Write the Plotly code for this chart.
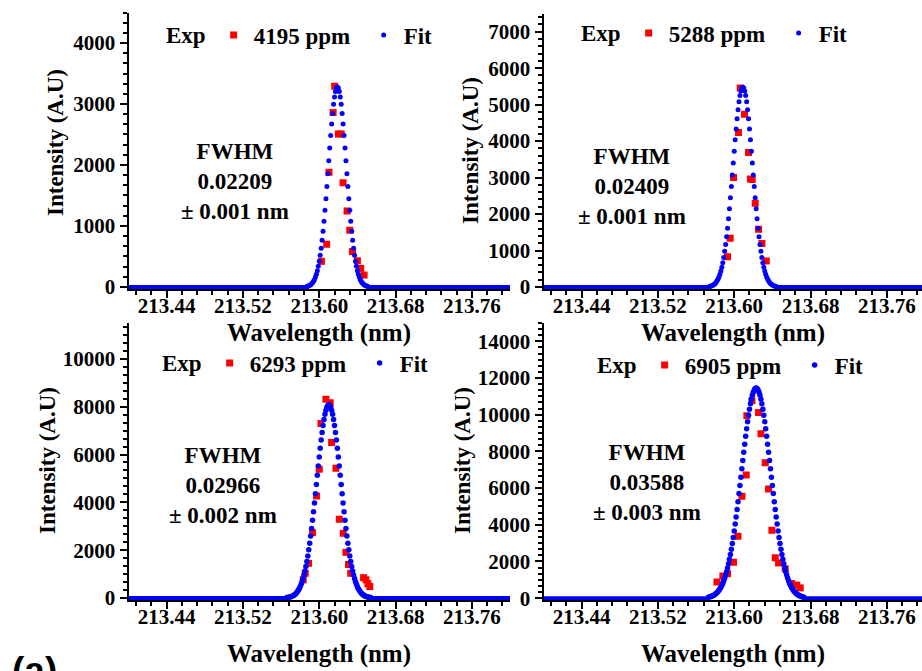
import plotly.graph_objects as go

W, H = 922, 671
SERIF = "serif"
BLUE = "#0000FF"
RED = "#FF0000"

# ---------------- data ----------------
CONC_LABELS = ["4195 ppm", "5288 ppm", "6293 ppm", "6905 ppm"]
FWHM_VALUES = ["0.02209", "0.02409", "0.02966", "0.03588"]
FWHM_ERRORS = ["± 0.001 nm", "± 0.001 nm", "± 0.002 nm", "± 0.003 nm"]
X_TICKS = [213.44, 213.52, 213.60, 213.68, 213.76]
X_TICK_TEXT = ["213.44", "213.52", "213.60", "213.68", "213.76"]
Y_TICKS = [
    [0, 1000, 2000, 3000, 4000],
    [0, 1000, 2000, 3000, 4000, 5000, 6000, 7000],
    [0, 2000, 4000, 6000, 8000, 10000],
    [0, 2000, 4000, 6000, 8000, 10000, 12000, 14000],
]

EXP1_X = [213.6023, 213.6078, 213.6102, 213.6145, 213.6162, 213.6200, 213.6230,
          213.6250, 213.6292, 213.6320, 213.6348, 213.6400, 213.6435, 213.6470]
EXP1_Y = [420, 700, 1880, 2860, 3290, 2510, 2510, 1710, 1245, 930, 580, 430, 305, 196]

EXP2_X = [213.5930, 213.5958, 213.5993, 213.6045, 213.6063, 213.6108, 213.6150,
          213.6170, 213.6188, 213.6220, 213.6255, 213.6290, 213.6336]
EXP2_Y = [830, 1337, 3000, 4236, 5454, 4740, 3687, 2960, 2950, 2297, 1584, 1190, 714]

EXP3_X = [213.5832, 213.5853, 213.5888, 213.5930, 213.5972, 213.6000, 213.6018,
          213.6070, 213.6115, 213.6130, 213.6175, 213.6210, 213.6252, 213.6280,
          213.6307, 213.6330, 213.6465, 213.6490, 213.6510, 213.6530]
EXP3_Y = [760, 1032, 1450, 2733, 4268, 5384, 7300, 8314, 8160, 6500, 5427, 3293,
          2706, 1910, 1400, 1032, 850, 760, 600, 480]

EXP4_X = [213.5819, 213.5881, 213.5930, 213.5993, 213.6039, 213.6081, 213.6126,
          213.6133, 213.6186, 213.6255, 213.6280, 213.6325, 213.6360, 213.6395,
          213.6430, 213.6465, 213.6535, 213.6600, 213.6657, 213.6692]
EXP4_Y = [880, 1205, 1330, 1960, 3380, 5550, 6720, 9950, 10760, 10120, 8960, 7380,
          5956, 3700, 2200, 1920, 1600, 800, 712, 560]

FIT1_X = [213.587, 213.588, 213.589, 213.590, 213.591, 213.592, 213.593, 213.594, 213.595, 213.596,
          213.597, 213.598, 213.599, 213.600, 213.601, 213.602, 213.603, 213.604, 213.605, 213.606,
          213.607, 213.608, 213.609, 213.610, 213.611, 213.612, 213.613, 213.614, 213.615, 213.616,
          213.617, 213.618, 213.619, 213.620, 213.621, 213.622, 213.623, 213.624, 213.625, 213.626,
          213.627, 213.628, 213.629, 213.630, 213.631, 213.632, 213.633, 213.634, 213.635, 213.636,
          213.637, 213.638, 213.639, 213.640, 213.641, 213.642, 213.643, 213.644, 213.645, 213.646,
          213.647, 213.648, 213.649, 213.650, 213.651]
FIT1_Y = [10, 14, 20, 28, 38, 52, 70, 94, 124, 162,
          210, 268, 338, 422, 521, 635, 766, 913, 1077, 1256,
          1447, 1649, 1858, 2070, 2280, 2483, 2673, 2846, 2995, 3116,
          3206, 3261, 3280, 3261, 3206, 3116, 2995, 2846, 2673, 2483,
          2280, 2070, 1858, 1649, 1447, 1256, 1077, 913, 766, 635,
          521, 422, 338, 268, 210, 162, 124, 94, 70, 52,
          38, 28, 20, 14, 10]

FIT2_X = [213.574, 213.575, 213.576, 213.577, 213.578, 213.579, 213.580, 213.581, 213.582, 213.583,
          213.584, 213.585, 213.586, 213.587, 213.588, 213.589, 213.590, 213.591, 213.592, 213.593,
          213.594, 213.595, 213.596, 213.597, 213.598, 213.599, 213.600, 213.601, 213.602, 213.603,
          213.604, 213.605, 213.606, 213.607, 213.608, 213.609, 213.610, 213.611, 213.612, 213.613,
          213.614, 213.615, 213.616, 213.617, 213.618, 213.619, 213.620, 213.621, 213.622, 213.623,
          213.624, 213.625, 213.626, 213.627, 213.628, 213.629, 213.630, 213.631, 213.632, 213.633,
          213.634, 213.635, 213.636, 213.637, 213.638, 213.639, 213.640, 213.641, 213.642, 213.643,
          213.644]
FIT2_Y = [16, 22, 30, 41, 56, 74, 99, 129, 168, 217,
          277, 350, 438, 543, 666, 811, 977, 1165, 1378, 1613,
          1870, 2148, 2444, 2754, 3074, 3398, 3722, 4036, 4336, 4614,
          4863, 5077, 5249, 5376, 5454, 5480, 5454, 5376, 5249, 5077,
          4863, 4614, 4336, 4036, 3722, 3398, 3074, 2754, 2444, 2148,
          1870, 1613, 1378, 1165, 977, 811, 666, 543, 438, 350,
          277, 217, 168, 129, 99, 74, 56, 41, 30, 22,
          16]

FIT3_X = [213.566, 213.567, 213.568, 213.569, 213.570, 213.571, 213.572, 213.573, 213.574, 213.575,
          213.576, 213.577, 213.578, 213.579, 213.580, 213.581, 213.582, 213.583, 213.584, 213.585,
          213.586, 213.587, 213.588, 213.589, 213.590, 213.591, 213.592, 213.593, 213.594, 213.595,
          213.596, 213.597, 213.598, 213.599, 213.600, 213.601, 213.602, 213.603, 213.604, 213.605,
          213.606, 213.607, 213.608, 213.609, 213.610, 213.611, 213.612, 213.613, 213.614, 213.615,
          213.616, 213.617, 213.618, 213.619, 213.620, 213.621, 213.622, 213.623, 213.624, 213.625,
          213.626, 213.627, 213.628, 213.629, 213.630, 213.631, 213.632, 213.633, 213.634, 213.635,
          213.636, 213.637, 213.638, 213.639, 213.640, 213.641, 213.642, 213.643, 213.644, 213.645,
          213.646, 213.647, 213.648, 213.649, 213.650, 213.651, 213.652, 213.653, 213.654]
FIT3_Y = [18, 24, 31, 40, 52, 67, 85, 108, 136, 170,
          211, 261, 321, 391, 474, 571, 683, 812, 960, 1127,
          1315, 1525, 1758, 2013, 2290, 2590, 2910, 3250, 3606, 3976,
          4357, 4744, 5133, 5518, 5896, 6259, 6604, 6924, 7213, 7468,
          7683, 7854, 7979, 8055, 8080, 8055, 7979, 7854, 7683, 7468,
          7213, 6924, 6604, 6259, 5896, 5518, 5133, 4744, 4357, 3976,
          3606, 3250, 2910, 2590, 2290, 2013, 1758, 1525, 1315, 1127,
          960, 812, 683, 571, 474, 391, 321, 261, 211, 170,
          136, 108, 85, 67, 52, 40, 31, 24, 18]

FIT4_X = [213.573, 213.574, 213.575, 213.576, 213.577, 213.578, 213.579, 213.580, 213.581, 213.582,
          213.583, 213.584, 213.585, 213.586, 213.587, 213.588, 213.589, 213.590, 213.591, 213.592,
          213.593, 213.594, 213.595, 213.596, 213.597, 213.598, 213.599, 213.600, 213.601, 213.602,
          213.603, 213.604, 213.605, 213.606, 213.607, 213.608, 213.609, 213.610, 213.611, 213.612,
          213.613, 213.614, 213.615, 213.616, 213.617, 213.618, 213.619, 213.620, 213.621, 213.622,
          213.623,
          213.624, 213.625, 213.626, 213.627, 213.628, 213.629, 213.630, 213.631, 213.632, 213.633,
          213.634, 213.635, 213.636, 213.637, 213.638, 213.639, 213.640, 213.641, 213.642, 213.643,
          213.644, 213.645, 213.646, 213.647, 213.648, 213.649, 213.650, 213.651, 213.652, 213.653,
          213.654, 213.655, 213.656, 213.657, 213.658, 213.659, 213.660, 213.661, 213.662, 213.663,
          213.664, 213.665, 213.666, 213.667, 213.668, 213.669, 213.670, 213.671, 213.672, 213.673]
FIT4_Y = [53, 65, 80, 98, 120, 146, 177, 214, 256, 307,
          365, 433, 511, 600, 702, 819, 950, 1097, 1262, 1446,
          1648, 1872, 2116, 2382, 2670, 2980, 3312, 3665, 4038, 4429,
          4838, 5262, 5699, 6145, 6597, 7053, 7507, 7957, 8397, 8823,
          9232, 9617, 9976, 10303, 10596, 10850, 11062, 11230, 11352, 11425,
          11450,
          11425, 11352, 11230, 11062, 10850, 10596, 10303, 9976, 9617, 9232,
          8823, 8397, 7957, 7507, 7053, 6597, 6145, 5699, 5262, 4838,
          4429, 4038, 3665, 3312, 2980, 2670, 2382, 2116, 1872, 1648,
          1446, 1262, 1097, 950, 819, 702, 600, 511, 433, 365,
          307, 256, 214, 177, 146, 120, 98, 80, 65, 53]

TAIL1_X = [213.40, 213.587, None, 213.651, 213.80]
TAIL2_X = [213.40, 213.574, None, 213.644, 213.80]
TAIL3_X = [213.40, 213.566, None, 213.654, 213.80]
TAIL4_X = [213.40, 213.573, None, 213.673, 213.80]
TAIL_Y = [0, 0, None, 0, 0]

EXP_X = [EXP1_X, EXP2_X, EXP3_X, EXP4_X]
EXP_Y = [EXP1_Y, EXP2_Y, EXP3_Y, EXP4_Y]
FIT_X = [FIT1_X, FIT2_X, FIT3_X, FIT4_X]
FIT_Y = [FIT1_Y, FIT2_Y, FIT3_Y, FIT4_Y]
TAIL_X = [TAIL1_X, TAIL2_X, TAIL3_X, TAIL4_X]

X_DOM_PX = [(128.5, 510), (543.5, 922), (128.5, 510), (543.5, 922)]
X_RANGE = [(213.40, 213.80), (213.40, 213.7969), (213.40, 213.80), (213.40, 213.7969)]
Y_DOM_PX = [(12.5, 289), (13.5, 289), (323, 600), (323, 600)]
Y_RANGE = [(-33, 4500), (-55, 7500), (-84, 11500), (-100, 15000)]
Y_MINOR = [1000 / 6, 200, 2000 / 6, 2000 / 6]
FIT_SIZE = [5, 5, 5.5, 5.5]

LEG_PX = [(164, 35), (579, 33), (160, 363), (595, 365)]
FWHM_PX = [(235, 181.5), (632, 186.5), (223, 485), (647, 482.5)]
XTITLE_PX = [(319, 333), (733, 333), (319, 654), (733, 654)]
YTITLE_PX = [(55, 143), (470, 151), (47, 461), (462, 461)]


def fx(p):
    return p / W


def fy(p):
    return 1 - p / H


fig = go.Figure()
annotations = []
layout = dict(
    width=W, height=H,
    margin=dict(l=0, r=0, t=0, b=0, autoexpand=False),
    paper_bgcolor="white", plot_bgcolor="white",
    showlegend=True,
    font=dict(family=SERIF),
)

for i in range(4):
    n = i + 1
    xa = "x" if n == 1 else f"x{n}"
    ya = "y" if n == 1 else f"y{n}"
    leg = "legend" if n == 1 else f"legend{n}"

    fig.add_trace(go.Scatter(
        x=TAIL_X[i], y=TAIL_Y, mode="lines", xaxis=xa, yaxis=ya,
        line=dict(color=BLUE, width=4), showlegend=False, hoverinfo="skip",
    ))
    fig.add_trace(go.Scatter(
        x=EXP_X[i], y=EXP_Y[i], mode="markers", xaxis=xa, yaxis=ya,
        name=CONC_LABELS[i], legend=leg,
        marker=dict(symbol="square", size=7, color=RED, line=dict(width=0)),
    ))
    fig.add_trace(go.Scatter(
        x=FIT_X[i], y=FIT_Y[i], mode="markers", xaxis=xa, yaxis=ya,
        name="Fit", legend=leg,
        marker=dict(symbol="circle", size=FIT_SIZE[i], color=BLUE, line=dict(width=0)),
    ))

    x0, x1 = X_DOM_PX[i]
    yt, yb = Y_DOM_PX[i]
    axis_common = dict(
        showline=True, linecolor="black", linewidth=2,
        ticks="outside", ticklen=7, tickwidth=2, tickcolor="black",
        showgrid=False, zeroline=False, automargin=False,
        tickfont=dict(family=SERIF, size=21, color="black", weight="bold"),
    )
    layout["xaxis" if n == 1 else f"xaxis{n}"] = dict(
        domain=[fx(x0), fx(x1)], range=list(X_RANGE[i]), anchor=ya,
        tickmode="array", tickvals=X_TICKS, ticktext=X_TICK_TEXT,
        ticklabelstandoff=-10, ticklabeloverflow="allow",
        minor=dict(tickmode="linear", tick0=213.44, dtick=0.016, ticks="outside",
                   ticklen=4, tickwidth=2, tickcolor="black"),
        **axis_common,
    )
    layout["yaxis" if n == 1 else f"yaxis{n}"] = dict(
        domain=[fy(yb), fy(yt)], range=list(Y_RANGE[i]), anchor=xa,
        tickmode="array", tickvals=Y_TICKS[i], ticktext=[str(v) for v in Y_TICKS[i]],
        ticklabelstandoff=0,
        minor=dict(tickmode="linear", tick0=0, dtick=Y_MINOR[i], ticks="outside",
                   ticklen=4, tickwidth=2, tickcolor="black"),
        **axis_common,
    )

    lx, ly = LEG_PX[i]
    layout[leg] = dict(
        orientation="h", x=fx(lx), xanchor="left", y=fy(ly), yanchor="middle",
        bgcolor="rgba(0,0,0,0)", borderwidth=0, itemsizing="trace",
        entrywidth=105, entrywidthmode="pixels",
        title=dict(text="Exp", side="left",
                   font=dict(family=SERIF, size=23, color="black", weight="bold")),
        font=dict(family=SERIF, size=23, color="black", weight="bold"),
        traceorder="normal",
    )

    ax, ay = FWHM_PX[i]
    annotations.append(dict(
        x=fx(ax), y=fy(ay), xref="paper", yref="paper", xanchor="center", yanchor="middle",
        text=f"FWHM<br>{FWHM_VALUES[i]}<br>{FWHM_ERRORS[i]}", showarrow=False, align="center",
        font=dict(family=SERIF, size=23, color="black", weight="bold"),
    ))
    tx, ty = XTITLE_PX[i]
    annotations.append(dict(
        x=fx(tx), y=fy(ty), xref="paper", yref="paper", xanchor="center", yanchor="middle",
        text="Wavelength (nm)", showarrow=False,
        font=dict(family=SERIF, size=25, color="black", weight="bold"),
    ))
    vx, vy = YTITLE_PX[i]
    annotations.append(dict(
        x=fx(vx), y=fy(vy), xref="paper", yref="paper", xanchor="center", yanchor="middle",
        text="Intensity (A.U)", showarrow=False, textangle=-90,
        font=dict(family=SERIF, size=23, color="black", weight="bold"),
    ))

annotations.append(dict(
    x=fx(10), y=fy(648), xref="paper", yref="paper", xanchor="left", yanchor="top",
    text="(a)", showarrow=False,
    font=dict(family="sans-serif", size=37, color="black", weight="bold"),
))

layout["annotations"] = annotations
fig.update_layout(**layout)
fig.write_html(
    "out.html",
    config={"displayModeBar": False},
    post_script="document.body.style.margin='0px';document.body.style.overflow='hidden';",
)
